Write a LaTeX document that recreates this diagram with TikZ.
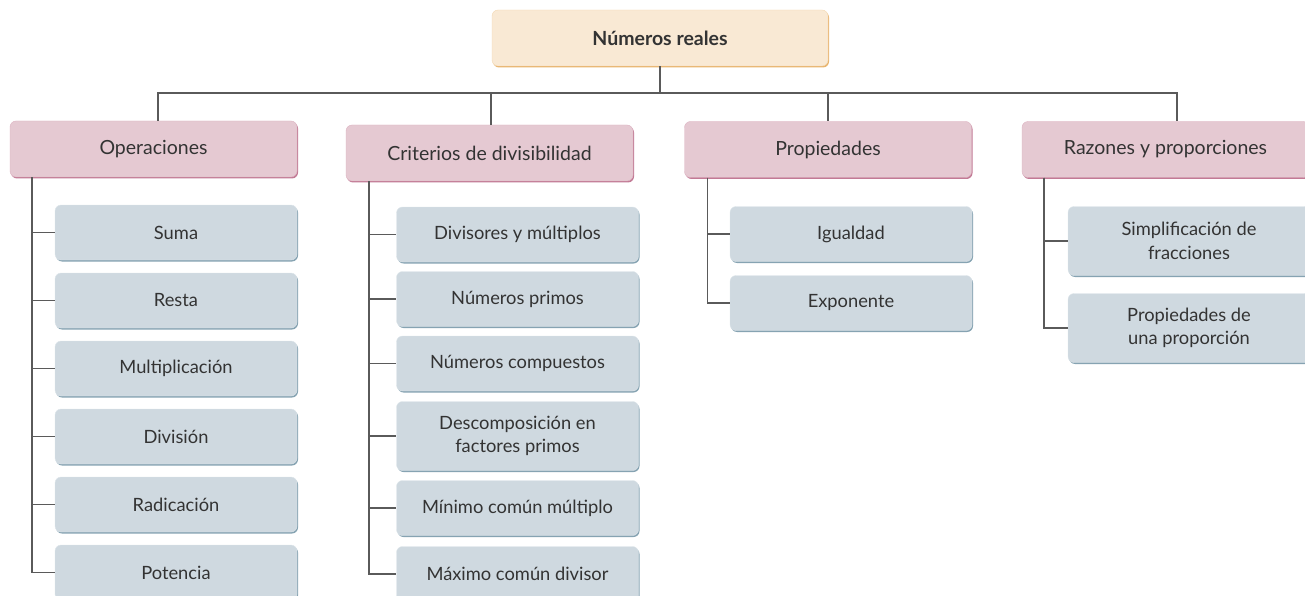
\documentclass[tikz,border=0pt]{standalone}
\usepackage{fontspec}
\setmainfont{Lato}
\usetikzlibrary{positioning,shadows}
\definecolor{rootfill}{HTML}{F9E9D4}
\definecolor{rootline}{HTML}{F3D9B4}
\definecolor{rootshade}{HTML}{E8B46E}
\definecolor{catfill}{HTML}{E5C9D2}
\definecolor{catline}{HTML}{DDB3C2}
\definecolor{catshade}{HTML}{C27A95}
\definecolor{itemfill}{HTML}{CFD9E0}
\definecolor{itemline}{HTML}{DCE4E9}
\definecolor{itemshade}{HTML}{86A3B2}
\definecolor{wire}{HTML}{5A5A5A}
\definecolor{txt}{HTML}{333333}

\begin{document}
\begin{tikzpicture}[x=1pt, y=-1pt, node distance=68pt]
        % Styles
        \tikzstyle{root} = [rectangle, draw=rootline, fill=rootfill, rounded corners=6pt, minimum width=336pt, minimum height=56pt, font=\fontsize{19.5}{23}\selectfont\bfseries, text=txt, drop shadow={shadow xshift=1pt, shadow yshift=-1.5pt, fill=rootshade, opacity=1}]
        \tikzstyle{cat} = [rectangle, draw=catline, fill=catfill, rounded corners=6pt, minimum width=287pt, minimum height=56pt, font=\fontsize{19.5}{23}\selectfont, text=txt, drop shadow={shadow xshift=1pt, shadow yshift=-1.5pt, fill=catshade, opacity=1}]
        \tikzstyle{item} = [rectangle, draw=itemline, fill=itemfill, rounded corners=6pt, minimum width=242pt, minimum height=55pt, align=center, font=\fontsize{18.3}{23.5}\selectfont, text=txt, drop shadow={shadow xshift=1pt, shadow yshift=-1.5pt, fill=itemshade, opacity=1}]
        \tikzstyle{tall} = [minimum height=69pt]
        \tikzstyle{line} = [draw=wire, line width=1.5pt]

        \useasboundingbox (0,0) rectangle (1305,596);
        \clip (0,0) rectangle (1305,596);

        % Nodes
        \node [root] (reales) at (660,38) {Números reales};
        \node [cat] (ops) at (153.5,149) {Operaciones};
        \node [cat] (crit) at (489.5,153) {Criterios de divisibilidad};
        \node [cat] (prop) at (828,149.5) {Propiedades};
        \node [cat] (raz) at (1165.5,149.5) {Razones y proporciones};

        \node [item] (suma) at (176,232.5) {Suma};
        \node [item, below of=suma] (resta) {Resta};
        \node [item, below of=resta] (mult) {Multiplicación};
        \node [item, below of=mult] (divi) {División};
        \node [item, below of=divi] (radi) {Radicación};
        \node [item, below of=radi] (pote) {Potencia};

        \node [item] (divs) at (517.5,234.5) {Divisores y múltiplos};
        \node [item, below of=divs, node distance=64.5pt] (primos) {Números primos};
        \node [item, below of=primos, node distance=64.5pt] (compu) {Números compuestos};
        \node [item, tall, below of=compu, node distance=72.5pt] (desc) {Descomposición en\\factores primos};
        \node [item, below of=desc, node distance=72pt] (mcm) {Mínimo común múltiplo};
        \node [item, below of=mcm, node distance=66pt] (mcd) {Máximo común divisor};

        \node [item] (igual) at (851,234) {Igualdad};
        \node [item, below of=igual, node distance=69pt] (expo) {Exponente};

        \node [item, tall] (simp) at (1189,241) {Simplificación de\\fracciones};
        \node [item, tall, below of=simp, node distance=87pt] (propo) {Propiedades de\\una proporción};

        % Edges
        \path [line] (reales.south) -- ++(0,27) -| ([xshift=4.5pt]ops.north);
        \path [line] (reales.south) -- ++(0,27) -| ([xshift=1.5pt]crit.north);
        \path [line] (reales.south) -- ++(0,27) -| (prop.north);
        \path [line] (reales.south) -- ++(0,27) -| ([xshift=11.5pt]raz.north);

        \foreach \kid in {suma,resta,mult,divi,radi,pote}
            \path [line] ([xshift=22pt]ops.south west) |- (\kid.west);
        \foreach \kid in {divs,primos,compu,desc,mcm,mcd}
            \path [line] ([xshift=23pt]crit.south west) |- (\kid.west);
        \foreach \kid in {igual,expo}
            \path [line] ([xshift=23pt]prop.south west) |- (\kid.west);
        \foreach \kid in {simp,propo}
            \path [line] ([xshift=22pt]raz.south west) |- (\kid.west);

    \end{tikzpicture}
\end{document}
